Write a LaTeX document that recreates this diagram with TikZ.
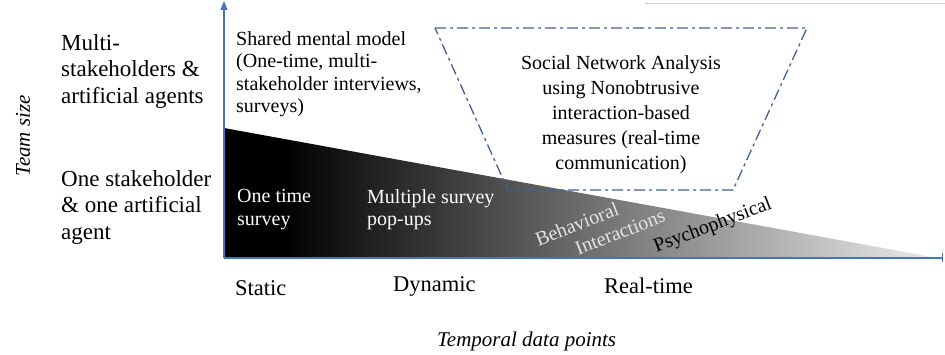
\documentclass[tikz,border=0pt]{standalone}
\usepackage{fontspec}
\setmainfont{Liberation Serif}
\usetikzlibrary{arrows.meta}
\definecolor{axisblue}{RGB}{68,114,196}
\definecolor{frameblue}{RGB}{66,96,150}
\definecolor{topline}{RGB}{255,214,90}
\definecolor{fadeend}{RGB}{236,236,236}
\definecolor{lightlbl}{RGB}{228,228,228}
% black-to-light ramp used for the data-richness wedge
\pgfdeclarehorizontalshading{wedgefade}{100bp}{color(0bp)=(black); color(25bp)=(black); color(29bp)=(black); color(75bp)=(fadeend); color(100bp)=(fadeend)}
\begin{document}
\begin{tikzpicture}[x=1pt,y=-1pt,
  axisline/.style={draw=axisblue, line width=1.2pt},
  frameline/.style={draw=frameblue, line width=1.3pt, dash pattern=on 11pt off 4pt on 3pt off 4pt},
  biglbl/.style={font=\fontsize{23}{26.5}\selectfont, align=left, inner sep=0pt},
  midlbl/.style={font=\fontsize{20}{22.5}\selectfont, align=left, inner sep=0pt},
  ticklbl/.style={font=\fontsize{22.5}{26}\selectfont, inner sep=0pt, anchor=base west},
  axistitle/.style={font=\fontsize{21}{24}\selectfont\itshape, inner sep=0pt},
  slantlbl/.style={font=\fontsize{20}{22}\selectfont, inner sep=0pt, rotate=21}]
\useasboundingbox (0,0) rectangle (945,355);

% thin rule along the upper right edge
\coordinate (ruleA) at (645,4);
\coordinate (ruleB) at (945,4);
\draw[draw=topline, line width=1pt] (ruleA) -- (ruleB);

% wedge of available data, fading with temporal resolution
\coordinate (O) at (224,258);
\coordinate (wedgeTop) at (224,128);
\coordinate (wedgeTip) at (938,258);
\shade[shading=wedgefade] (wedgeTop) -- (O) -- (wedgeTip) -- cycle;

% dash-dotted funnel around the network-analysis box
\coordinate (fTL) at (435,28);
\coordinate (fTR) at (807,28);
\coordinate (fBR) at (733,190);
\coordinate (fBL) at (508,190);
\path[frameline] (fTL) -- (fTR) -- (fBR) -- (fBL) -- cycle;

% axes
\coordinate (yTop) at (224,1);
\coordinate (xEnd) at (943,258);
\draw[axisline, -{Triangle[length=9pt,width=7pt]}] (O) -- (yTop);
\draw[axisline, -{Bar[width=9pt]}] (O) -- (xEnd);

% team-size levels
\node[biglbl, anchor=north west] (multi) at (61,34.3) {Multi-\\stakeholders \&\\artificial agents};
\node[biglbl, anchor=north west] (single) at (61,170.3) {One stakeholder\\\& one artificial\\agent};
\node[axistitle, rotate=90] (teamsize) at (23,136) {Team size};

% methods
\node[midlbl, anchor=north west] (smm) at (236,31.3) {Shared mental model\\(One-time, multi-\\stakeholder interviews,\\surveys)};
\node[font=\fontsize{20}{25}\selectfont, align=center, inner sep=0pt, anchor=north] (sna) at (621,55.3) {Social Network Analysis\\using Nonobtrusive\\interaction-based\\measures (real-time\\communication)};
\node[midlbl, text=white, anchor=north west] (onetime) at (237,189.3) {One time\\survey};
\node[midlbl, text=white, anchor=north west] (multiple) at (367,189.3) {Multiple survey\\pop-ups};
\node[slantlbl, text=lightlbl] (behav) at (577,224) {Behavioral};
\node[slantlbl, text=lightlbl] (inter) at (620,232) {Interactions};
\node[slantlbl] (psycho) at (713,226) {Psychophysical};

% temporal levels
\node[ticklbl] (static) at (235,296) {Static};
\node[ticklbl] (dynamic) at (393,292) {Dynamic};
\node[ticklbl] (realtime) at (604,294) {Real-time};
\node[axistitle, anchor=base west] (temporal) at (437,346) {Temporal data points};
\end{tikzpicture}
\end{document}
